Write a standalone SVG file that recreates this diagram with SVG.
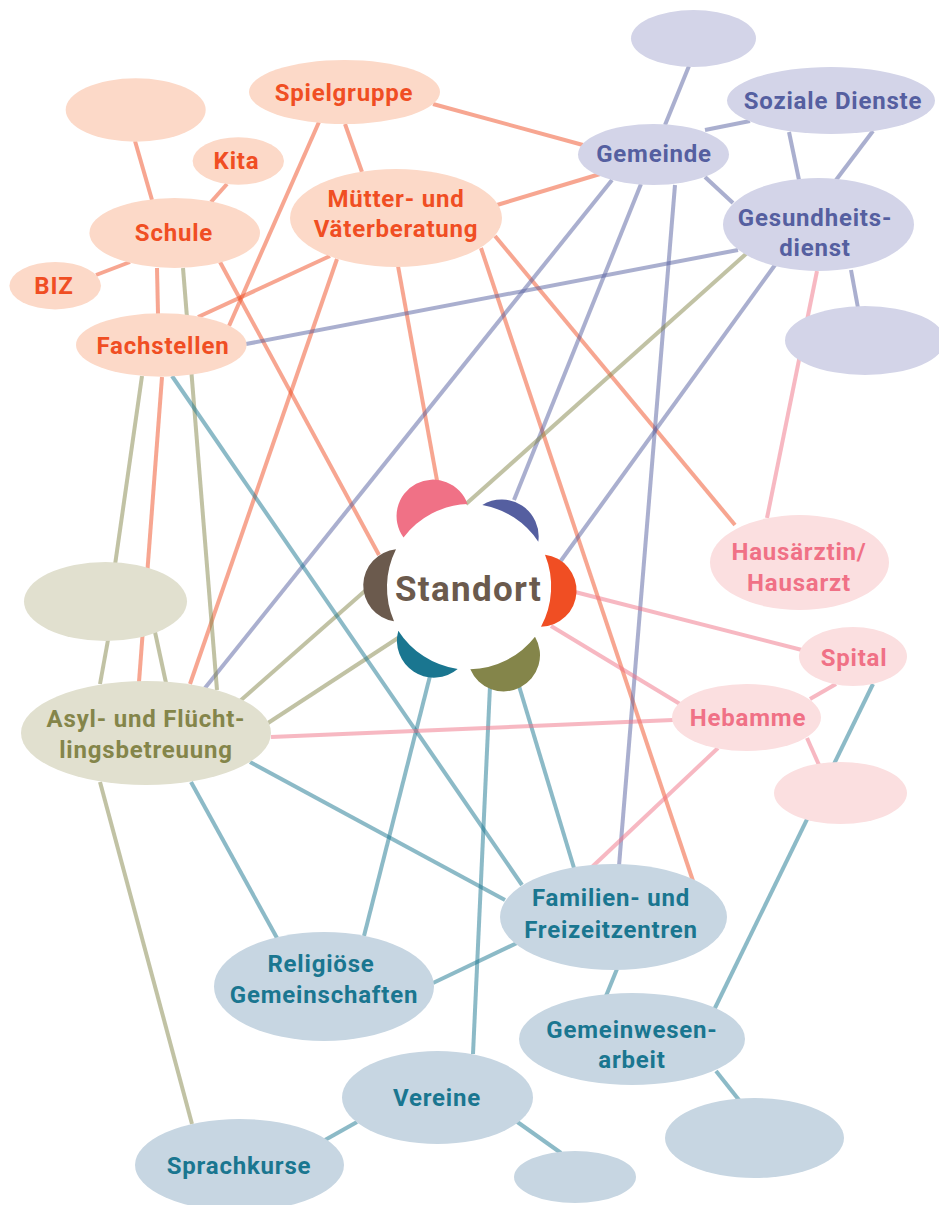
<svg xmlns="http://www.w3.org/2000/svg" width="939" height="1205" viewBox="0 0 939 1205">
<style>
text{font-family:"Roboto","Liberation Sans",sans-serif;font-weight:700;font-size:24px;text-anchor:middle;letter-spacing:.8px}
#connectors line{stroke-width:4;stroke-opacity:.5;fill:none}
.r line,line.r{stroke:#f04e23}.b line,line.b{stroke:#555fa0}.o line,line.o{stroke:#84854a}.t line,line.t{stroke:#1a7690}.p line,line.p{stroke:#f07186}
.nr ellipse{fill:#fcd9c8}.nr text{fill:#f04e23}
.nb ellipse{fill:#d3d4e8}.nb text{fill:#555fa0}
.no ellipse{fill:#e1e0cf}.no text{fill:#84854a}
.nt ellipse{fill:#c7d6e2}.nt text{fill:#1a7690}
.np ellipse{fill:#fbdfe0}.np text{fill:#f07186}
</style>
<rect width="939" height="1205" fill="#fff"/>
<g id="connectors">
<g class="r">
<line x1="135" y1="141" x2="152" y2="200"/><line x1="227" y1="184" x2="211" y2="202"/><line x1="96" y1="275" x2="130" y2="262"/><line x1="157" y1="268" x2="158" y2="314"/><line x1="220" y1="262" x2="379" y2="555"/><line x1="319" y1="122" x2="229" y2="326"/><line x1="345" y1="124" x2="362" y2="172"/><line x1="433" y1="104" x2="583" y2="145"/><line x1="330" y1="256" x2="198" y2="317"/><line x1="497" y1="205" x2="600" y2="174"/><line x1="337" y1="259" x2="190" y2="684"/><line x1="398" y1="266" x2="438" y2="486"/><line x1="495" y1="236" x2="735" y2="525"/><line x1="481" y1="248" x2="693" y2="881"/><line x1="162" y1="377" x2="139" y2="682"/>
</g>
<g class="b">
<line x1="246" y1="344" x2="738" y2="250"/><line x1="612" y1="180" x2="205" y2="688"/><line x1="641" y1="184" x2="514" y2="500"/><line x1="675" y1="185" x2="619" y2="866"/><line x1="689" y1="66" x2="665" y2="125"/><line x1="705" y1="130" x2="750" y2="121"/><line x1="705" y1="177" x2="733" y2="203"/><line x1="789" y1="132" x2="799" y2="180"/><line x1="873" y1="131" x2="836" y2="180"/><line x1="851" y1="270" x2="858" y2="308"/><line x1="775" y1="265" x2="560" y2="562"/>
</g>
<g class="o">
<line x1="142" y1="376" x2="115" y2="565"/><line x1="183" y1="268" x2="217" y2="690"/><line x1="747" y1="253" x2="466" y2="504"/><line x1="366" y1="590" x2="240" y2="701"/><line x1="398" y1="638" x2="268" y2="723"/><line x1="108" y1="640" x2="100" y2="684"/><line x1="155" y1="632" x2="166" y2="683"/><line x1="100" y1="782" x2="192" y2="1124"/>
</g>
<g class="t">
<line x1="172" y1="376" x2="522" y2="885"/><line x1="873" y1="684" x2="714" y2="1010"/><line x1="250" y1="762" x2="505" y2="900"/><line x1="191" y1="782" x2="277" y2="938"/><line x1="430" y1="676" x2="364" y2="936"/><line x1="490" y1="686" x2="473" y2="1054"/><line x1="519" y1="686" x2="574" y2="868"/><line x1="517" y1="943" x2="433" y2="983"/><line x1="617" y1="969" x2="606" y2="996"/><line x1="716" y1="1071" x2="739" y2="1100"/><line x1="357" y1="1122" x2="325" y2="1140"/><line x1="516" y1="1121" x2="561" y2="1153"/>
</g>
<g class="p">
<line x1="817" y1="271" x2="767" y2="518"/><line x1="575" y1="592" x2="802" y2="650"/><line x1="551" y1="626" x2="680" y2="704"/><line x1="836" y1="684" x2="810" y2="699"/><line x1="807" y1="738" x2="819" y2="765"/><line x1="271" y1="737" x2="673" y2="720"/><line x1="718" y1="748" x2="592" y2="867"/>
</g>
</g>
<g id="n-blank-school" class="nr"><ellipse cx="135.7" cy="110" rx="70" ry="31.7"/></g>
<g id="n-kita" class="nr"><ellipse cx="238.3" cy="161" rx="45.7" ry="23.7"/><text x="236.5" y="169">Kita</text></g>
<g id="n-schule" class="nr"><ellipse cx="174.7" cy="233" rx="85.3" ry="35"/><text x="174" y="241">Schule</text></g>
<g id="n-biz" class="nr"><ellipse cx="55.2" cy="285.7" rx="45.8" ry="23.7"/><text x="54" y="294">BIZ</text></g>
<g id="n-fachstellen" class="nr"><ellipse cx="161.3" cy="345" rx="85.3" ry="31.7"/><text x="163" y="354">Fachstellen</text></g>
<g id="n-spielgruppe" class="nr"><ellipse cx="344.5" cy="92" rx="95.5" ry="32"/><text x="344" y="101">Spielgruppe</text></g>
<g id="n-muetter" class="nr"><ellipse cx="396" cy="218" rx="106" ry="49"/><text x="396" y="207">Mütter- und</text><text x="396" y="237">Väterberatung</text></g>
<g id="n-blank-top" class="nb"><ellipse cx="693.5" cy="38.5" rx="62.5" ry="28.5"/></g>
<g id="n-gemeinde" class="nb"><ellipse cx="653.5" cy="154.5" rx="75.5" ry="30.5"/><text x="654" y="162">Gemeinde</text></g>
<g id="n-soziale" class="nb"><ellipse cx="831" cy="100.5" rx="104" ry="33.5"/><text x="833" y="109">Soziale Dienste</text></g>
<g id="n-gesundheit" class="nb"><ellipse cx="818.5" cy="224.5" rx="95.5" ry="46.5"/><text x="815" y="226">Gesundheits-</text><text x="815" y="256">dienst</text></g>
<g id="n-blank-right" class="nb"><ellipse cx="865" cy="340.5" rx="80" ry="34.5"/></g>
<g id="n-hausarzt" class="np"><ellipse cx="799.5" cy="562.5" rx="89.5" ry="47.5"/><text x="799" y="560">Hausärztin/</text><text x="799" y="591">Hausarzt</text></g>
<g id="n-spital" class="np"><ellipse cx="853" cy="656.5" rx="54" ry="29.5"/><text x="854" y="666">Spital</text></g>
<g id="n-hebamme" class="np"><ellipse cx="746.5" cy="717.5" rx="74.5" ry="33.5"/><text x="748" y="726">Hebamme</text></g>
<g id="n-blank-pink" class="np"><ellipse cx="840.5" cy="793" rx="66.5" ry="31"/></g>
<g id="n-blank-olive" class="no"><ellipse cx="105.5" cy="601.5" rx="81.5" ry="39.5"/></g>
<g id="n-asyl" class="no"><ellipse cx="146" cy="733" rx="125" ry="52"/><text x="146" y="727">Asyl- und Flücht-</text><text x="146" y="758">lingsbetreuung</text></g>
<g id="n-familien" class="nt"><ellipse cx="613.5" cy="917" rx="113.5" ry="53"/><text x="611" y="906">Familien- und</text><text x="611" y="938">Freizeitzentren</text></g>
<g id="n-religioese" class="nt"><ellipse cx="324" cy="986.5" rx="110" ry="54.5"/><text x="321" y="972">Religiöse</text><text x="324" y="1003">Gemeinschaften</text></g>
<g id="n-gemeinwesen" class="nt"><ellipse cx="632" cy="1039" rx="113" ry="46"/><text x="632" y="1038">Gemeinwesen-</text><text x="632" y="1068">arbeit</text></g>
<g id="n-vereine" class="nt"><ellipse cx="437.5" cy="1097.5" rx="95.5" ry="46.5"/><text x="437" y="1106">Vereine</text></g>
<g id="n-sprachkurse" class="nt"><ellipse cx="239.5" cy="1165" rx="104.5" ry="46"/><text x="239" y="1174">Sprachkurse</text></g>
<g id="n-blank-small" class="nt"><ellipse cx="575" cy="1177" rx="61" ry="26"/></g>
<g id="n-blank-teal" class="nt"><ellipse cx="754.5" cy="1138" rx="89.5" ry="40"/></g>
<g id="n-standort">
<path fill="#f07186" d="M403.5 537.5A36.5 36.5 0 1 1 467.5 504A85 85 0 0 0 403.5 537.5Z"/>
<path fill="#555fa0" d="M482.3 505A37 37 0 0 1 538.3 541.7A85 85 0 0 0 482.3 505Z"/>
<path fill="#f04e23" d="M545 554.7A36.15 36.15 0 0 1 541 626.7A85 85 0 0 0 545 554.7Z"/>
<path fill="#84854a" d="M535 636.7A36.3 36.3 0 1 1 470.3 669.3A85 85 0 0 0 535 636.7Z"/>
<path fill="#1a7690" d="M398.3 630.7A37 37 0 0 0 457.7 669A85 85 0 0 1 398.3 630.7Z"/>
<path fill="#6b5a4d" d="M396 549.3A36.3 36.3 0 0 0 394 621.3A85 85 0 0 1 396 549.3Z"/>
<text x="468.5" y="601" fill="#6b5a4d" style="font-size:35px;letter-spacing:1.3px">Standort</text>
</g>
</svg>
